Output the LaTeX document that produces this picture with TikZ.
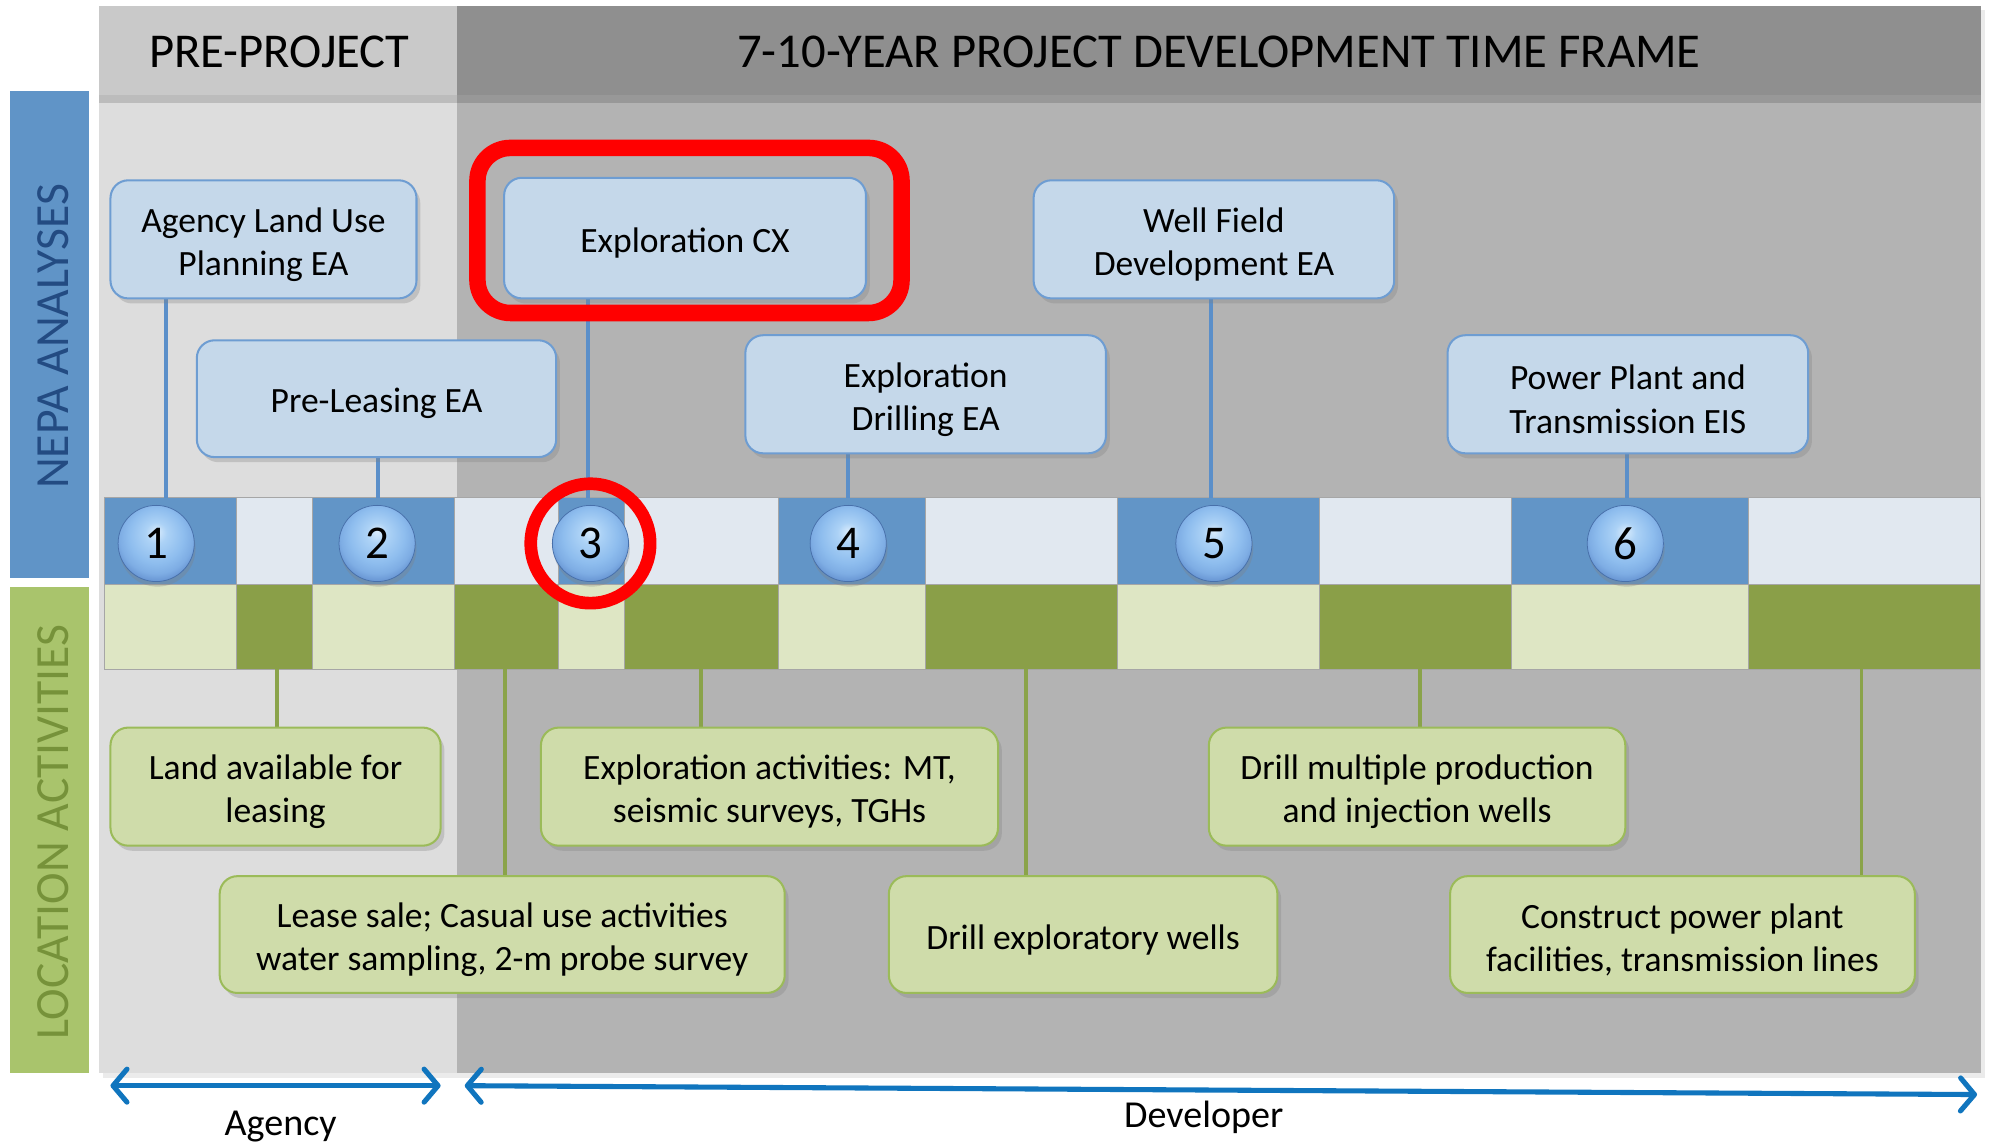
\documentclass[tikz,border=0pt]{standalone}
\usepackage{fontspec}
\setmainfont{Carlito}
\usetikzlibrary{shadows,arrows.meta}
\definecolor{hdrL}{RGB}{201,201,201}
\definecolor{hdrR}{RGB}{143,143,143}
\definecolor{bodyL}{RGB}{221,221,221}
\definecolor{bodyR}{RGB}{179,179,179}
\definecolor{nepaC}{RGB}{96,148,199}
\definecolor{nepaT}{RGB}{35,75,130}
\definecolor{locC}{RGB}{169,196,108}
\definecolor{locT}{RGB}{118,146,58}
\definecolor{tlDB}{RGB}{98,149,199}
\definecolor{tlLB}{RGB}{225,232,240}
\definecolor{tlDG}{RGB}{138,159,72}
\definecolor{tlLG}{RGB}{222,230,196}
\definecolor{bxBf}{RGB}{197,216,234}
\definecolor{bxBd}{RGB}{110,157,210}
\definecolor{bxGf}{RGB}{207,220,170}
\definecolor{bxGd}{RGB}{155,187,89}
\definecolor{conB}{RGB}{91,143,201}
\definecolor{conG}{RGB}{138,163,74}
\definecolor{arrC}{RGB}{16,117,190}
\definecolor{sphA}{RGB}{218,236,252}
\definecolor{sphB}{RGB}{172,210,246}
\definecolor{sphC}{RGB}{142,189,238}
\definecolor{sphD}{RGB}{126,173,228}
\definecolor{sphE}{RGB}{100,145,208}
\definecolor{sphF}{RGB}{72,112,170}
\pgfdeclareradialshading{bsph}{\pgfpoint{0bp}{8bp}}{color(0bp)=(sphA); color(7bp)=(sphB); color(18bp)=(sphC); color(24bp)=(sphD); color(29bp)=(sphE); color(31bp)=(sphF); color(50bp)=(sphF)}
\newcommand\bxfont{\fontsize{28}{34}\selectfont}
\newcommand\hdfont{\fontsize{38.3}{40}\selectfont}
\newcommand\sdfont{\fontsize{37.5}{40}\selectfont}
\newcommand\numfont{\fontsize{37}{40}\selectfont}
\newcommand\lblfont{\fontsize{30}{34}\selectfont}
\begin{document}
\begin{tikzpicture}[x=1pt,y=-1pt,
  nbox/.style={rounded corners=14pt, fill=bxBf, draw=bxBd, line width=1.6pt, inner sep=0pt,
    drop shadow={shadow xshift=3pt, shadow yshift=-4pt, opacity=.3}},
  gbox/.style={rounded corners=14pt, fill=bxGf, draw=bxGd, line width=1.6pt, inner sep=0pt,
    drop shadow={shadow xshift=3pt, shadow yshift=-4pt, opacity=.3}},
  btxt/.style={font=\bxfont, align=center, inner sep=0pt, yshift=-4pt},
  ballnode/.style={circle, minimum size=60pt, inner sep=0pt, shading=bsph, draw=sphF, line width=0.6pt, font=\numfont,
    drop shadow={shadow xshift=1pt, shadow yshift=-4pt, opacity=.3}},
  bcon/.style={conB, line width=3pt},
  gcon/.style={conG, line width=3pt},
  cell/.style={draw=black!35, line width=0.8pt},
  arr/.style={arrC, line width=4pt, line cap=round},
  barb/.tip={Straight Barb[length=11pt, width=26pt, round]},
  sidelabel/.style={rotate=90, font=\sdfont, inner sep=0pt}
]
\useasboundingbox (0,0) rectangle (1568,899);
\fill[white] (0,0) rectangle (1568,899);
% panel
\fill[black, opacity=.08] (81,8) rectangle (1563,849);
\fill[bodyL] (78,5) rectangle (360,845);
\fill[bodyR] (360,5) rectangle (1560,845);
\fill[black, opacity=.15] (78,75) rectangle (1560,81);
\fill[hdrL] (78,5) rectangle (360,75);
\fill[hdrR] (360,5) rectangle (1560,75);
\node[font=\hdfont] (pre) at (220,41) {PRE-PROJECT};
\node[font=\hdfont] (frame) at (960,41) {7-10-YEAR PROJECT DEVELOPMENT TIME FRAME};
% side bands
\fill[nepaC] (8,72) rectangle (70,455);
\node[sidelabel, text=nepaT] (nepaL) at (42,265) {NEPA ANALYSES};
\fill[locC] (8,462) rectangle (70,845);
\node[sidelabel, text=locT] (locL) at (42,655) {LOCATION ACTIVITIES};
% timeline
\foreach \a/\b in {82/186,246/358,440/492,613/729,880/1039,1190/1377}
  {\fill[tlDB, cell] (\a,392) rectangle (\b,460);
   \fill[tlLG, cell] (\a,460) rectangle (\b,527);}
\foreach \a/\b in {186/246,358/440,492/613,729/880,1039/1190,1377/1560}
  {\fill[tlLB, cell] (\a,392) rectangle (\b,460);
   \fill[tlDG, cell] (\a,460) rectangle (\b,527);}
% connector anchor points on the timeline
\coordinate (tb1) at (131,392);
\coordinate (tb2) at (298,392);
\coordinate (tb3) at (463,392);
\coordinate (tb4) at (668,392);
\coordinate (tb5) at (954,392);
\coordinate (tb6) at (1281,392);
\coordinate (tg1) at (218,527);
\coordinate (tg2) at (398,527);
\coordinate (tg3) at (552,527);
\coordinate (tg4) at (808,527);
\coordinate (tg5) at (1118,527);
\coordinate (tg6) at (1466,527);
% box positions
\coordinate (pAg) at (207.5,188.5);
\coordinate (pPl) at (296.5,314);
\coordinate (pCx) at (539.5,187.5);
\coordinate (pDr) at (729,310.5);
\coordinate (pWf) at (956,188.5);
\coordinate (pPp) at (1282,310.5);
\coordinate (pLa) at (217,619.5);
\coordinate (pLs) at (395.5,736);
\coordinate (pEa) at (606,619.5);
\coordinate (pDe) at (853,736);
\coordinate (pDm) at (1116,619.5);
\coordinate (pCo) at (1325,736);
% connectors (behind boxes)
\draw[bcon] (tb1 |- pAg) -- (tb1);
\draw[bcon] (tb2 |- pPl) -- (tb2);
\draw[bcon] (tb3 |- pCx) -- (tb3);
\draw[bcon] (tb4 |- pDr) -- (tb4);
\draw[bcon] (tb5 |- pWf) -- (tb5);
\draw[bcon] (tb6 |- pPp) -- (tb6);
\draw[gcon] (tg1) -- (tg1 |- pLa);
\draw[gcon] (tg2) -- (tg2 |- pLs);
\draw[gcon] (tg3) -- (tg3 |- pEa);
\draw[gcon] (tg4) -- (tg4 |- pDe);
\draw[gcon] (tg5) -- (tg5 |- pDm);
\draw[gcon] (tg6) -- (tg6 |- pCo);
% NEPA boxes
\node[nbox, minimum width=241pt, minimum height=93pt] (agency) at (pAg) {};
\node[btxt] (agencyT) at (agency) {Agency Land Use\\Planning EA};
\node[nbox, minimum width=283pt, minimum height=92pt] (prelease) at (pPl) {};
\node[btxt] (preleaseT) at (prelease) {Pre-Leasing EA};
\node[nbox, minimum width=285pt, minimum height=95pt] (cx) at (pCx) {};
\node[btxt] (cxT) at (cx) {Exploration CX};
\node[nbox, minimum width=284pt, minimum height=93pt] (drilling) at (pDr) {};
\node[btxt] (drillingT) at (drilling) {Exploration\\Drilling EA};
\node[nbox, minimum width=284pt, minimum height=93pt] (wellfield) at (pWf) {};
\node[btxt] (wellfieldT) at (wellfield) {Well Field\\Development EA};
\node[nbox, minimum width=284pt, minimum height=93pt] (power) at (pPp) {};
\node[btxt] (powerT) at (power) {Power Plant and\\Transmission EIS};
% location boxes
\node[gbox, minimum width=260pt, minimum height=93pt] (land) at (pLa) {};
\node[btxt] (landT) at (land) {Land available for\\leasing};
\node[gbox, minimum width=445pt, minimum height=92pt] (lease) at (pLs) {};
\node[btxt] (leaseT) at (lease) {Lease sale; Casual use activities\\water sampling, 2-m probe survey};
\node[gbox, minimum width=360pt, minimum height=93pt] (explact) at (pEa) {};
\node[btxt] (explactT) at (explact) {Exploration activities: MT,\\seismic surveys, TGHs};
\node[gbox, minimum width=306pt, minimum height=92pt] (drillexp) at (pDe) {};
\node[btxt] (drillexpT) at (drillexp) {Drill exploratory wells};
\node[gbox, minimum width=328pt, minimum height=93pt] (drillmult) at (pDm) {};
\node[btxt] (drillmultT) at (drillmult) {Drill multiple production\\and injection wells};
\node[gbox, minimum width=366pt, minimum height=92pt] (construct) at (pCo) {};
\node[btxt] (constructT) at (construct) {Construct power plant\\facilities, transmission lines};
% numbered balls
\node[ballnode] (n1) at (123,428) {1};
\node[ballnode] (n2) at (297,428) {2};
\node[ballnode] (n3) at (465,428) {3};
\node[ballnode] (n4) at (668,428) {4};
\node[ballnode] (n5) at (956,428) {5};
\node[ballnode] (n6) at (1280,428) {6};
% red highlights
\draw[red, line width=10pt] (n3) circle[radius=47];
\node[draw=red, line width=13pt, rounded corners=26pt, minimum width=334pt, minimum height=130pt, inner sep=0pt] (hl) at (543,181.5) {};
% arrows
\coordinate (ag1) at (87,855);
\coordinate (ag2) at (347,855);
\coordinate (dv1) at (366,855);
\coordinate (dv2) at (1557,862);
\draw[arr, barb-barb] (ag1) -- (ag2);
\draw[arr, barb-barb] (dv1) -- (dv2);
\node[font=\lblfont, anchor=base] (agL) at (221,894) {Agency};
\node[font=\lblfont, anchor=base] (devL) at (948,888) {Developer};
\end{tikzpicture}
\end{document}
